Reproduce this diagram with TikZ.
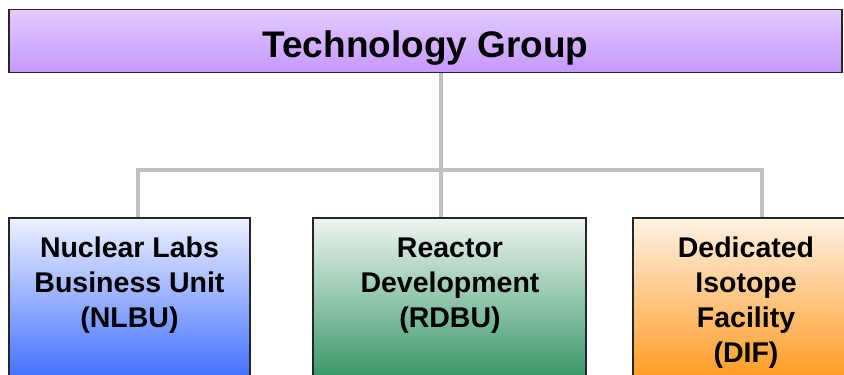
\documentclass[tikz,border=0pt]{standalone}
\usepackage{fontspec}
\setmainfont{Liberation Sans}
\definecolor{purT}{HTML}{E2CBFF}
\definecolor{purB}{HTML}{C698FF}
\definecolor{bluT}{HTML}{EEF1FF}
\definecolor{bluB}{HTML}{3566FF}
\definecolor{grnT}{HTML}{EEF5F1}
\definecolor{grnB}{HTML}{2A905E}
\definecolor{orgT}{HTML}{FFF2E4}
\definecolor{orgB}{HTML}{FF9514}
\definecolor{connc}{HTML}{C0C0C0}
\tikzset{
  box/.style={draw=black!85, line width=1.3pt, rectangle, inner sep=0pt},
  conn/.style={draw=connc, line width=3.6pt},
  title/.style={font=\fontsize{37}{44}\selectfont\bfseries, inner sep=0pt},
  lbl/.style={font=\fontsize{28.5}{35}\selectfont\bfseries, align=center, inner sep=0pt}
}
\begin{document}
\begin{tikzpicture}[x=1pt,y=-1pt]
\useasboundingbox (0,0) rectangle (844,375);
\clip (0,0) rectangle (844,375);
\fill[white] (0,0) rectangle (844,375);
% connectors
\coordinate (jl) at (138,170);
\coordinate (jm) at (441,170);
\coordinate (jr) at (762,170);
% boxes
\node[box, top color=purT, bottom color=purB, minimum width=833pt, minimum height=63pt] (top) at (425.5,41) {};
\node[box, top color=bluT, bottom color=bluB, minimum width=241pt, minimum height=172pt] (left) at (129.5,304) {};
\node[box, top color=grnT, bottom color=grnB, minimum width=273pt, minimum height=172pt] (mid) at (449.5,304) {};
\node[box, top color=orgT, bottom color=orgB, minimum width=227pt, minimum height=172pt] (right) at (746.5,304) {};
\draw[conn] (top.south -| jm) -- (mid.north -| jm);
\draw[conn] (left.north -| jl) -- (jl) -- (jr) -- (right.north -| jr);
% texts (base anchor = baseline of last line)
\node[title, anchor=base] (tt) at (425.5,57) {Technology Group};
\node[lbl, anchor=base] (t1) at (129.5,327) {Nuclear Labs\\Business Unit\\(NLBU)};
\node[lbl, anchor=base] (t2) at (450,327) {Reactor\\Development\\(RDBU)};
\node[lbl, anchor=base] (t3) at (746,362) {Dedicated\\Isotope\\Facility\\(DIF)};
\end{tikzpicture}
\end{document}
